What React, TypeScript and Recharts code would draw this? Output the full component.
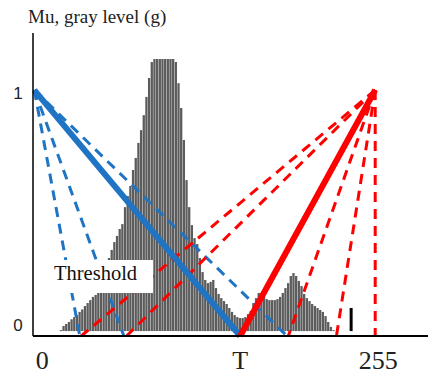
import {
  ComposedChart,
  Bar,
  XAxis,
  YAxis,
  ReferenceLine,
} from 'recharts';

// gray levels (histogram bins, step 2)
const grayLevels = [
  20, 22, 24, 26, 28, 30, 32, 34, 36, 38, 40, 42, 44, 46, 48, 50, 52, 54, 56, 58,
  60, 62, 64, 66, 68, 70, 72, 74, 76, 78, 80, 82, 84, 86, 88, 90, 92, 94, 96, 98,
  100, 102, 104, 106, 108, 110, 112, 114, 116, 118, 120, 122, 124, 126, 128, 130,
  132, 134, 136, 138, 140, 142, 144, 146, 148, 150, 152, 154, 156, 158, 160, 162,
  164, 166, 168, 170, 172, 174, 176, 178, 180, 182, 184, 186, 188, 190, 192, 194,
  196, 198, 200, 202, 204, 206, 208, 210, 212, 214, 216, 218, 220, 222, 224,
];

// histogram height, same scale as the membership (1 = top of the lines)
const histogram = [
  0.024, 0.041, 0.049, 0.057, 0.068, 0.077, 0.085, 0.098, 0.108, 0.122, 0.134,
  0.146, 0.159, 0.167, 0.183, 0.199, 0.236, 0.276, 0.317, 0.35, 0.382, 0.407,
  0.435, 0.455, 0.524, 0.569, 0.61, 0.675, 0.724, 0.785, 0.837, 0.898, 0.972,
  1.049, 1.114, 1.126, 1.126, 1.126, 1.126, 1.126, 1.126, 1.126, 1.126, 1.114,
  1.028, 0.927, 0.797, 0.634, 0.524, 0.451, 0.398, 0.374, 0.317, 0.26, 0.228,
  0.215, 0.22, 0.228, 0.195, 0.171, 0.154, 0.142, 0.13, 0.114, 0.098, 0.085,
  0.077, 0.073, 0.073, 0.077, 0.089, 0.102, 0.134, 0.154, 0.175, 0.175, 0.159,
  0.15, 0.146, 0.146, 0.146, 0.15, 0.159, 0.175, 0.195, 0.215, 0.244, 0.256,
  0.244, 0.224, 0.203, 0.171, 0.154, 0.142, 0.13, 0.122, 0.114, 0.106, 0.098,
  0.081, 0.057, 0.037, 0.024,
];

const HIST_BASE = 0.02;
const T = 154;
const G_MAX = 255;
const blueDashedEnds = [34, 67, 189];
const redDashedEnds = [35, 69, 190, 226, 255];
const cursorLevel = 237;
const cursorRange = [0.02, 0.114];

const xTickLabels: Record<number, string> = { 0: '0', [T]: 'T', [G_MAX]: '255' };
const yTickLabels: Record<number, string> = { 0: '0', 1: '1' };

const data = grayLevels.map((g, i) => ({ g, range: [HIST_BASE, histogram[i]] }));

const BLUE = '#1f74c4';
const RED = '#ff0000';
const SERIF = "'Liberation Serif', 'Times New Roman', serif";

const XTick = ({ x, y, payload }: any) => {
  const v = payload.value;
  const dx = v === 0 ? 8 : v === G_MAX ? 3 : 0;
  return (
    <text
      x={x + dx}
      y={y + 25}
      textAnchor="middle"
      fontFamily={SERIF}
      fontSize={26}
      fill="#222"
    >
      {xTickLabels[v]}
    </text>
  );
};

const YTick = ({ x, y, payload }: any) => {
  const v = payload.value;
  return (
    <text
      x={x - 7}
      y={v === 1 ? y + 9 : y - 5}
      textAnchor="middle"
      fontFamily="'Liberation Sans', Arial, sans-serif"
      fontSize={17}
      fill="#222"
    >
      {yTickLabels[v]}
    </text>
  );
};

export default function App() {
  return (
    <div style={{ position: 'absolute', left: 0, top: 0, width: 428, height: 374, background: '#fff' }}>
      <ComposedChart
        width={428}
        height={374}
        data={data}
        margin={{ top: 33, right: 0, left: 0, bottom: 0 }}
      >
        <XAxis
          dataKey="g"
          type="number"
          domain={[-1, 294.5]}
          allowDataOverflow
          ticks={[0, T, G_MAX]}
          tickLine={false}
          tick={<XTick />}
          height={38}
          axisLine={{ stroke: '#000', strokeWidth: 2 }}
        />
        <YAxis
          type="number"
          domain={[0, 1.232]}
          allowDataOverflow
          ticks={[0, 1]}
          tickLine={false}
          tick={<YTick />}
          width={33}
          axisLine={{ stroke: '#000', strokeWidth: 1.5 }}
        />
        <Bar dataKey="range" fill="#5c5c5c" barSize={2.3} isAnimationActive={false} />
        {blueDashedEnds.map((e) => (
          <ReferenceLine
            key={`b-${e}`}
            segment={[{ x: 0, y: 1 }, { x: e, y: 0 }]}
            stroke={BLUE}
            strokeWidth={3}
            strokeDasharray="10 7"
          />
        ))}
        {redDashedEnds.map((e) => (
          <ReferenceLine
            key={`r-${e}`}
            segment={[{ x: G_MAX, y: 1 }, { x: e, y: 0 }]}
            stroke={RED}
            strokeWidth={3}
            strokeDasharray="10 7"
          />
        ))}
        <ReferenceLine
          segment={[{ x: 0, y: 1 }, { x: T, y: 0 }]}
          stroke={BLUE}
          strokeWidth={6}
        />
        <ReferenceLine
          segment={[{ x: T, y: 0 }, { x: G_MAX, y: 1 }]}
          stroke={RED}
          strokeWidth={6}
        />
        <ReferenceLine
          segment={[{ x: cursorLevel, y: cursorRange[0] }, { x: cursorLevel, y: cursorRange[1] }]}
          stroke="#000"
          strokeWidth={3}
        />
      </ComposedChart>
      {/* title and the threshold box sit on top of the plot */}
      <svg
        width={428}
        height={374}
        style={{ position: 'absolute', left: 0, top: 0, pointerEvents: 'none' }}
      >
        <text x={28} y={23} fontFamily={SERIF} fontSize={19} fill="#222">
          Mu, gray level (g)
        </text>
        <rect x={53} y={260} width={100} height={33} fill="#fff" />
        <text x={54} y={280} fontFamily={SERIF} fontSize={20.5} fill="#111">
          Threshold
        </text>
      </svg>
    </div>
  );
}
